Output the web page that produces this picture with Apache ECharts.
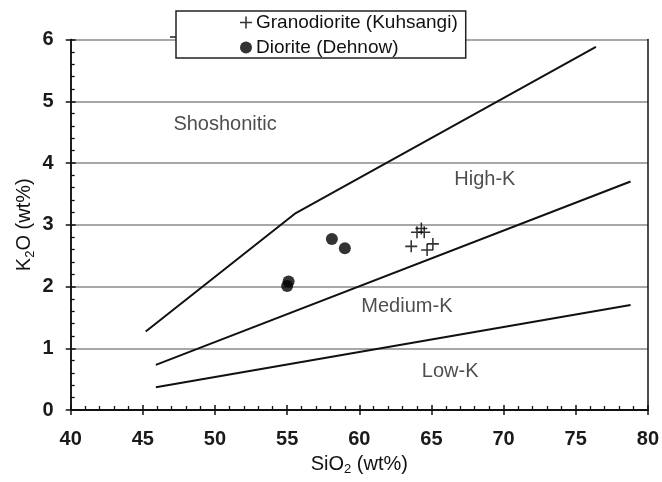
<!DOCTYPE html>
<html>
<head>
<meta charset="utf-8">
<script src="https://cdn.jsdelivr.net/npm/echarts@6/dist/echarts.min.js"></script>
<style>
html,body{margin:0;padding:0;background:#fff;}
#chart{width:662px;height:482px;}
</style>
</head>
<body>
<div id="chart"></div>
<script>
// ---- data ----
const xTicks = [40, 45, 50, 55, 60, 65, 70, 75, 80];
const yTicks = [0, 1, 2, 3, 4, 5, 6];
const shoshoniticBoundary = [[45.2, 1.27], [55.6, 3.19], [76.4, 5.88]];
const highKBoundary = [[45.9, 0.73], [78.8, 3.70]];
const lowKBoundary = [[45.9, 0.37], [78.8, 1.70]];
const granodiorite = [[64.0, 2.88], [64.3, 2.94], [64.5, 2.88], [63.6, 2.65], [65.1, 2.69], [64.7, 2.59]];
const diorite = [[58.1, 2.77], [59.0, 2.62], [55.0, 2.01], [55.1, 2.08]];
const regionNames = ['Shoshonitic', 'High-K', 'Medium-K', 'Low-K'];
const regionPositions = [[50.7, 4.62], [68.7, 3.73], [63.3, 1.67], [66.3, 0.62]];
const seriesNames = ['Granodiorite (Kuhsangi)', 'Diorite (Dehnow)'];

const FONT = 'Liberation Sans, Arial, Helvetica, sans-serif';
const plusPath = 'path://M4.35,0 H5.65 V4.35 H10 V5.65 H5.65 V10 H4.35 V5.65 H0 V4.35 H4.35 Z';

const chart = echarts.init(document.getElementById('chart'), null, {renderer: 'canvas'});

const xBase = {type: 'value', min: xTicks[0], max: xTicks[xTicks.length - 1], interval: 5, gridIndex: 0};
const yBase = {type: 'value', min: yTicks[0], max: yTicks[yTicks.length - 1], interval: 1, gridIndex: 0};
const lineBlack = {show: true, lineStyle: {color: '#111', width: 1.5}};

const option = {
  backgroundColor: '#fff',
  animation: false,
  textStyle: {fontFamily: FONT},
  grid: {left: 70.7, right: 11, top: 39.5, bottom: 72, containLabel: false},
  legend: {
    data: [
      {name: seriesNames[0], icon: plusPath},
      {name: seriesNames[1], icon: 'circle'}
    ],
    orient: 'vertical',
    left: 176, top: 11,
    padding: [1, 8, 0, 64],
    itemGap: 4,
    itemWidth: 12, itemHeight: 12,
    itemStyle: {color: '#000', borderWidth: 0},
    borderColor: '#222', borderWidth: 1.5,
    backgroundColor: '#fff',
    selectedMode: false,
    textStyle: {fontFamily: FONT, fontSize: 19, color: '#111', lineHeight: 21, padding: [0, 0, 0, -1]}
  },
  xAxis: [
    Object.assign({}, xBase, {
      position: 'bottom',
      name: '{a|SiO}{s|2}{a| (wt%)}',
      nameLocation: 'middle', nameGap: 42, nameMoveOverlap: false,
      nameTextStyle: {rich: {
        a: {fontFamily: FONT, fontSize: 20, color: '#111'},
        s: {fontFamily: FONT, fontSize: 13, color: '#111', padding: [11, 0, 0, 0]}
      }},
      axisLine: lineBlack,
      axisTick: {show: true, inside: false, length: 5, lineStyle: {color: '#111', width: 1.5}},
      axisLabel: {show: true, margin: 19, fontFamily: FONT, fontSize: 20, fontWeight: 'bold', color: '#1a1a1a'},
      splitLine: {show: false}
    }),
    Object.assign({}, xBase, {
      position: 'bottom',
      axisLine: lineBlack,
      axisTick: {show: true, inside: true, length: 5, lineStyle: {color: '#111', width: 1.5}},
      minorTick: {show: true, splitNumber: 5, length: 4, lineStyle: {color: '#111', width: 1.3}},
      axisLabel: {show: false},
      splitLine: {show: false}
    }),
    Object.assign({}, xBase, {
      position: 'top', z: 5,
      axisLine: lineBlack,
      axisTick: {show: false}, axisLabel: {show: false}, splitLine: {show: false}
    })
  ],
  yAxis: [
    Object.assign({}, yBase, {
      position: 'left',
      name: '{a|K}{s|2}{a|O (wt%)}',
      nameLocation: 'middle', nameGap: 34, nameRotate: 90, nameMoveOverlap: false,
      nameTextStyle: {rich: {
        a: {fontFamily: FONT, fontSize: 20, color: '#111'},
        s: {fontFamily: FONT, fontSize: 13, color: '#111', padding: [11, 0, 0, 0]}
      }},
      axisLine: lineBlack,
      axisTick: {show: true, inside: false, length: 5, lineStyle: {color: '#111', width: 1.5}},
      axisLabel: {show: true, margin: 17, fontFamily: FONT, fontSize: 20, fontWeight: 'bold', color: '#1a1a1a'},
      splitLine: {show: true, lineStyle: {color: '#8a8a8a', width: 1.5}}
    }),
    Object.assign({}, yBase, {
      position: 'left',
      axisLine: lineBlack,
      axisTick: {show: true, inside: true, length: 5, lineStyle: {color: '#111', width: 1.5}},
      minorTick: {show: true, splitNumber: 5, length: 4, lineStyle: {color: '#111', width: 1.3}},
      axisLabel: {show: false},
      splitLine: {show: false}
    }),
    Object.assign({}, yBase, {
      position: 'right', z: 5,
      axisLine: lineBlack,
      axisTick: {show: false}, axisLabel: {show: false}, splitLine: {show: false}
    })
  ],
  series: [
    {type: 'line', data: shoshoniticBoundary, symbol: 'none', silent: true,
     lineStyle: {color: '#111', width: 2}, z: 2},
    {type: 'line', data: highKBoundary, symbol: 'none', silent: true,
     lineStyle: {color: '#111', width: 2}, z: 2},
    {type: 'line', data: lowKBoundary, symbol: 'none', silent: true,
     lineStyle: {color: '#111', width: 2}, z: 2},
    {type: 'scatter', name: 'regions', silent: true, symbolSize: 0,
     data: regionPositions.map((p, i) => ({value: p, label: {formatter: regionNames[i]}})),
     label: {show: true, position: 'inside', fontFamily: FONT, fontSize: 20, color: '#222'}, z: 3},
    {type: 'scatter', name: seriesNames[0], data: granodiorite, symbol: plusPath, symbolSize: 12,
     itemStyle: {color: '#000'}, z: 4},
    {type: 'scatter', name: seriesNames[1], data: diorite, symbol: 'circle', symbolSize: 12,
     itemStyle: {color: '#000'}, z: 4}
  ],
  graphic: [
    {type: 'line', shape: {x1: 170, y1: 37, x2: 176, y2: 37}, style: {stroke: '#222', lineWidth: 1.5}}
  ]
};
chart.setOption(option);
</script>
</body>
</html>
